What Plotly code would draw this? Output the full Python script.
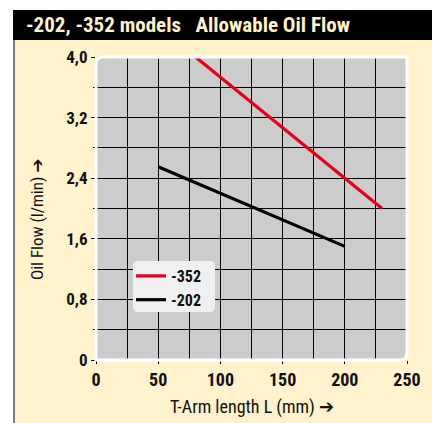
import plotly.graph_objects as go

# Data
x_352 = [80, 230]
y_352 = [4.0, 2.0]
x_202 = [50, 200]
y_202 = [2.55, 1.5]
series_names = ["<b>-352</b>", "<b>-202</b>"]
y_tickvals = [0, 0.8, 1.6, 2.4, 3.2, 4.0]
y_ticktext = ["0", "0,8", "1,6", "2,4", "3,2", "4,0"]
x_tickvals = [0, 50, 100, 150, 200, 250]

W, H = 432, 423
L, R, T, B = 96, 25, 57, 63
PW, PH = W - L - R, H - T - B

def px(x):
    return (x - L) / PW

def py(y):
    return (H - B - y) / PH

FONT = "Roboto Condensed, Liberation Sans Narrow, DejaVu Sans Condensed, sans-serif"
CREAM = "#fff2cc"
RED = "#e2001a"
ARROW = '<span style="font-family:DejaVu Sans"><b>➔</b></span>'

fig = go.Figure()
fig.add_trace(go.Scatter(x=x_352, y=y_352, mode="lines", name=series_names[0],
                         line=dict(color=RED, width=3.2)))
fig.add_trace(go.Scatter(x=x_202, y=y_202, mode="lines", name=series_names[1],
                         line=dict(color="#000000", width=3.2)))

def rounded_path(x0, y0, x1, y1, r):
    rx = r / PW
    ry = r / PH
    return (f"M {x0},{y0} L {x0},{y1-ry} Q {x0},{y1} {x0+rx},{y1} "
            f"L {x1},{y1} L {x1},{y0+ry} Q {x1},{y0} {x1-rx},{y0} Z")

def all_rounded(x0, y0, x1, y1, r):
    rx = r / PW
    ry = r / PH
    return (f"M {x0+rx},{y0} L {x1-rx},{y0} Q {x1},{y0} {x1},{y0+ry} "
            f"L {x1},{y1-ry} Q {x1},{y1} {x1-rx},{y1} L {x0+rx},{y1} "
            f"Q {x0},{y1} {x0},{y1-ry} L {x0},{y0+ry} Q {x0},{y0} {x0+rx},{y0} Z")

shapes = [
    dict(type="rect", xref="paper", yref="paper", layer="below",
         x0=px(14), x1=px(440), y0=py(430), y1=py(40),
         fillcolor=CREAM, line=dict(width=0)),
    dict(type="rect", xref="paper", yref="paper", layer="below",
         x0=px(13), x1=px(440), y0=py(40), y1=py(10),
         fillcolor="#000000", line=dict(width=0)),
    dict(type="line", xref="paper", yref="paper", layer="below",
         x0=px(14), x1=px(14), y0=py(430), y1=py(40),
         line=dict(color="#555555", width=1.5)),
    dict(type="path", xref="paper", yref="paper", layer="below",
         path=rounded_path(0, 0, 1, 1, 7),
         fillcolor="#cccccc", line=dict(width=0)),
    dict(type="path", xref="paper", yref="paper", layer="above",
         path=rounded_path(0, 0, 1, 1, 7),
         fillcolor="rgba(0,0,0,0)", line=dict(color="#ffffff", width=3)),
    dict(type="path", xref="paper", yref="paper", layer="above",
         path=all_rounded(px(133), py(312), px(215), py(261), 5),
         fillcolor="#f0f0f0", line=dict(width=0)),
]

fig.update_layout(
    width=W, height=H,
    margin=dict(l=L, r=R, t=T, b=B, autoexpand=False),
    paper_bgcolor="#ffffff",
    plot_bgcolor="rgba(0,0,0,0)",
    font=dict(family=FONT, color="#111111", size=14),
    shapes=shapes,
    showlegend=True,
    legend=dict(x=px(131), y=py(259), xanchor="left", yanchor="top",
                bgcolor="rgba(0,0,0,0)", borderwidth=0,
                font=dict(family=FONT, size=16, color="#111111"),
                itemwidth=30, tracegroupgap=0),
    annotations=[
        dict(text="<b>-202, -352 models   Allowable Oil Flow</b>",
             xref="paper", yref="paper", x=px(24), y=py(25),
             xanchor="left", yanchor="middle", showarrow=False,
             font=dict(family=FONT, size=21, color="#fff2cc")),
        dict(text="Oil Flow (l/min) " + ARROW, xref="paper", yref="paper",
             x=px(37), y=py(219), xanchor="center", yanchor="middle",
             textangle=-90, showarrow=False,
             font=dict(family=FONT, size=17, color="#111111")),
        dict(text="T-Arm length L (mm) " + ARROW, xref="paper", yref="paper",
             x=0.5, y=py(407), xanchor="center", yanchor="middle",
             showarrow=False,
             font=dict(family=FONT, size=18, color="#111111")),
    ],
)

fig.update_xaxes(
    range=[0, 250], tickvals=x_tickvals, ticks="outside", ticklen=3,
    tickcolor="#000000", tickwidth=1.2,
    showgrid=True, gridcolor="#000000", gridwidth=1.2,
    minor=dict(tick0=0, dtick=25, showgrid=True, gridcolor="#000000", gridwidth=1.2, ticks=""),
    zeroline=False, showline=False,
    tickfont=dict(family=FONT, size=18, color="#111111", weight="bold"),
    fixedrange=True,
)
fig.update_yaxes(
    range=[0, 4.0], tickvals=y_tickvals, ticktext=y_ticktext,
    ticks="outside", ticklen=4, tickcolor="#000000", tickwidth=1.2,
    showgrid=True, gridcolor="#000000", gridwidth=1.2,
    minor=dict(tick0=0, dtick=0.4, showgrid=True, gridcolor="#000000", gridwidth=1.2,
               ticks="outside", ticklen=2, tickcolor="#000000"),
    zeroline=False, showline=False,
    tickfont=dict(family=FONT, size=17, color="#111111", weight="bold"),
    fixedrange=True,
)

fig.write_html("out.html", config={"displayModeBar": False},
               post_script="document.body.style.margin='0';document.body.style.padding='0';")
